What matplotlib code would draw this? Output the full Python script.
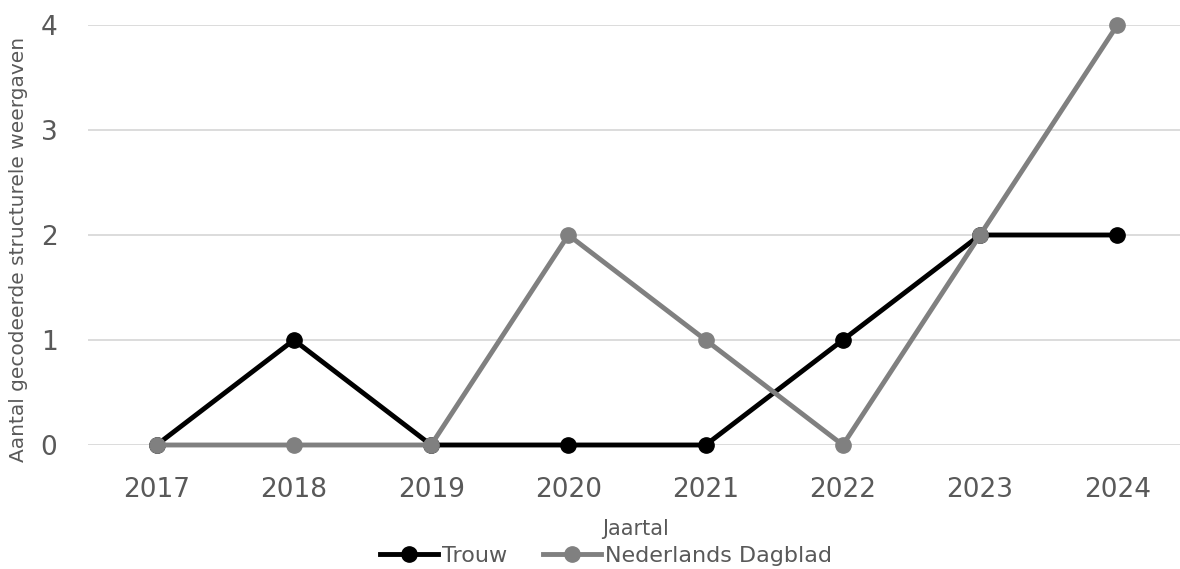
import matplotlib.pyplot as plt
from matplotlib.lines import Line2D

# data
years = ["2017", "2018", "2019", "2020", "2021", "2022", "2023", "2024"]
trouw = [0, 1, 0, 0, 0, 1, 2, 2]
nd = [0, 0, 0, 2, 1, 0, 2, 4]

TXT = "#595959"
GREY = "#808080"
LW, MS = 3.5, 11

fig = plt.figure(figsize=(11.8, 5.69), dpi=100)
W, H = 1180, 569
ax = fig.add_axes([88 / W, (H - 445) / H, (1186 - 88) / W, 420 / H])

x = range(len(years))
ax.plot(x, trouw, color="black", lw=LW, marker="o", ms=MS, clip_on=False, zorder=3)
ax.plot(x, nd, color=GREY, lw=LW, marker="o", ms=MS, clip_on=False, zorder=4)

ax.set_xlim(-0.5, len(years) - 0.5)
ax.set_ylim(0, 4)
ax.set_yticks([0, 1, 2, 3, 4])
ax.set_xticks(list(x))
ax.set_xticklabels(years)
ax.grid(axis="y", color="#d9d9d9", lw=1.3)
ax.set_axisbelow(True)
for s in ax.spines.values():
    s.set_visible(False)
ax.tick_params(length=0, labelsize=19, labelcolor=TXT)
ax.tick_params(axis="x", pad=23)
ax.tick_params(axis="y", pad=22)

fig.text(19 / W, 1 - 249 / H, "Aantal gecodeerde structurele weergaven", rotation=90,
         ha="center", va="center", fontsize=14.5, color=TXT)
fig.text(636 / W, 1 - 529 / H, "Jaartal", ha="center", va="center", fontsize=15, color=TXT)

handles = [
    Line2D([], [], color="black", lw=LW, marker="o", ms=MS),
    Line2D([], [], color=GREY, lw=LW, marker="o", ms=MS),
]
fig.legend(handles, ["Trouw", "Nederlands Dagblad"], loc="center",
           bbox_to_anchor=(606 / W, 1 - 556 / H), ncol=2, frameon=False,
           fontsize=16, labelcolor=TXT, handlelength=2.6, handletextpad=0.2,
           columnspacing=1.6, borderpad=0)

fig.savefig("out.png", dpi=100)
